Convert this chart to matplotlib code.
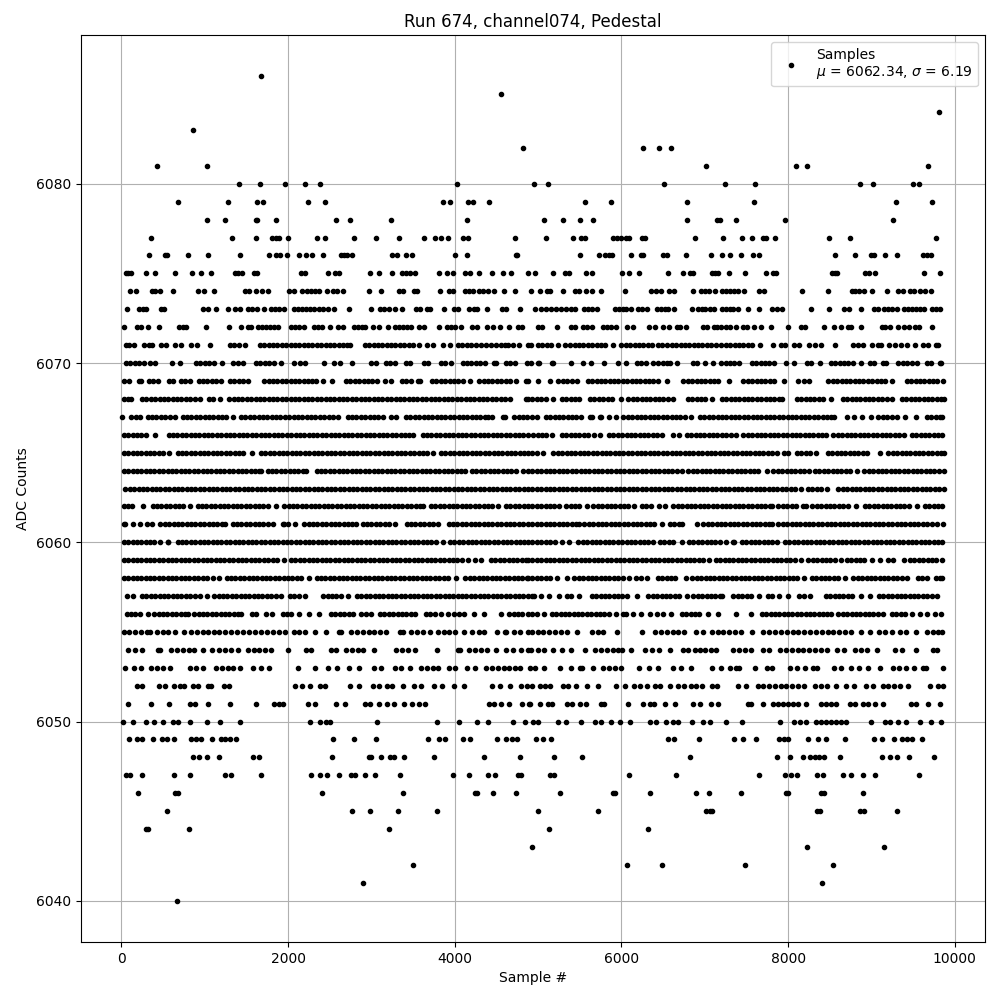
import matplotlib
matplotlib.use("Agg")
import matplotlib.pyplot as plt

# sample numbers, one list per ADC level
# dots above 6071 and below 6055 are read one by one; in the solid rows the
# dots overlap, so those lists only follow the runs and the gaps
x_6086 = [1680]
x_6085 = [4555]
x_6084 = [9812]
x_6083 = [854]
x_6082 = [4818, 6255, 6447, 6591]
x_6081 = [423, 1022, 7010, 8100, 8231, 9680]
x_6080 = [1405, 1668, 1968, 2207, 2387, 4028, 4950, 5118, 6507, 7249, 7609, 8866, 9022, 9501, 9573]
x_6079 = [674, 1273, 1632, 1704, 2243, 2447, 3860, 3944, 4160, 4219, 4411, 5561, 5872, 6782, 7597, 9297, 9728]
x_6078 = [1022, 1237, 1609, 1628, 1860, 2579, 2746, 3237, 4147, 5070, 5297, 5501, 5656, 6782, 7153, 7181, 7381, 7968, 9261]
x_6077 = [351, 1321, 1620, 1812, 1852, 1892, 2004, 2351, 2447, 2794, 3058, 3333, 3632, 3764, 3836, 3920, 4100, 4160, 4722,
          5094, 5417, 5513, 5561, 5896, 5944, 5992, 6056, 6088, 6243, 6283, 6878, 7225, 7453, 7573, 7704, 7736, 7848, 8495, 8746, 9776]
x_6076 = [327, 519, 547, 794, 1034, 1417, 1776, 1860, 1904, 1992, 2136, 2219, 2291, 2423, 2638, 2674, 2702, 2770, 3249, 3309, 3417, 3489,
          4004, 4147, 4730, 4750, 5501, 5728, 5800, 5848, 5888, 6112, 6235, 6263, 6503, 6547, 6770, 7070, 7213, 7309, 7441, 7585, 7657,
          8567, 8806, 8990, 9030, 9165, 9309, 9620, 9668, 9716]
x_6075 = [52, 84, 116, 291, 399, 638, 842, 950, 1070, 1357, 1393, 1441, 1593, 1625, 2159, 2199, 2483, 2567, 2615, 2986, 3094, 3249, 3369, 3417,
          3465, 3525, 3812, 3908, 3980, 4123, 4187, 4291, 4447, 4579, 4675, 4878, 4962, 5177, 5329, 5369, 5573, 5645, 6004, 6088, 6207, 6555,
          6734, 6818, 6854, 7082, 7126, 7162, 7297, 7489, 7740, 7824, 7860, 8531, 8563, 8591, 8926, 8974, 9046, 9632, 9824]
x_6074 = [100, 171, 363, 399, 459, 615, 914, 986, 1106, 1477, 1525, 1620, 1692, 1764, 2016, 2076, 2171, 2223, 2279, 2327, 2375, 2471, 2543, 2591,
          2662, 2974, 3118, 3333, 3381, 3513, 3549, 3824, 3932, 3980, 4123, 4171, 4219, 4291, 4339, 4399, 4471, 4591, 4722, 4914, 5022, 5106,
          5142, 5297, 5449, 5497, 5573, 5645, 5752, 6040, 6359, 6411, 6471, 6567, 6627, 6854, 6950, 7006, 7054, 7118, 7213, 7253, 7309, 7357,
          7405, 7477, 7657, 7716, 8171, 8483, 8770, 8806, 8854, 8914, 9010, 9189, 9321, 9381, 9465, 9513, 9585, 9645, 9716]
x_6073 = [64, 207, 255, 299, 471, 511, 974, 1034, 1137, 1273, 1357, 1417, 1513, 1561, 1632, 1716, 1800, 1848, 1896, 1956, 2076, 2124, 2171, 2219,
          2267, 2315, 2375, 2423, 2483, 2555, 2734, 2998, 3105, 3153, 3213, 3285, 3369, 3537, 3585, 3668, 3704, 3872, 3992, 4040, 4171, 4231,
          4271, 4387, 4567, 4615, 4782, 4962, 5034, 5094, 5153, 5213, 5273, 5333, 5393, 5441, 5549, 5597, 5645, 5704, 5920, 5968, 6016, 6052,
          6112, 6195, 6243, 6303, 6423, 6471, 6519, 6555, 6627, 6842, 6914, 6962, 6998, 7058, 7106, 7213, 7261, 7309, 7345, 7405, 7525, 7657,
          7812, 7872, 7932, 8279, 8495, 8674, 8734, 8878, 9034, 9082, 9153, 9201, 9249, 9309, 9393, 9441, 9489, 9537, 9585, 9632, 9728, 9776, 9824]
x_6072 = [28, 183, 231, 315, 447, 686, 734, 770, 1010, 1285, 1429, 1513, 1549, 1644, 1692, 1740, 1788, 1836, 1884, 2040, 2088, 2136, 2195, 2315,
          2363, 2411, 2507, 2603, 2662, 2794, 2842, 2890, 2926, 3022, 3094, 3201, 3285, 3333, 3381, 3429, 3477, 3573, 3632, 3812, 3908, 3956,
          4004, 4076, 4207, 4267, 4387, 4459, 4543, 4650, 4758, 4806, 4998, 5046, 5225, 5393, 5441, 5537, 5585, 5645, 5776, 5824, 5872, 5932,
          6064, 6136, 6327, 6399, 6495, 6567, 6662, 6698, 6770, 6974, 7022, 7106, 7153, 7201, 7261, 7309, 7381, 7465, 7513, 7597, 7680, 7800,
          8004, 8159, 8207, 8435, 8555, 8639, 8722, 8758, 8878, 9130, 9165, 9225, 9321, 9393, 9453, 9525, 9573, 9728]
x_6071 = [52, 90, 150, 270, 330, 365, 470, 530, 645, 720, 832, 905, 1060, 1300, 1352, 1405, 1480, 1660, 1712, 1765, 1818, 1870, 1922, 1975, 2030, 2082,
          2135, 2188, 2240, 2292, 2345, 2398, 2450, 2502, 2555, 2608, 2660, 2712, 2745, 2920, 2972, 3025, 3078, 3130, 3182, 3235, 3288, 3340, 3392,
          3445, 3498, 3570, 3668, 3740, 3860, 3940, 4040, 4092, 4145, 4198, 4250, 4310, 4380, 4440, 4500, 4552, 4605, 4640, 4700, 4770, 4878, 4918,
          5000, 5052, 5105, 5158, 5240, 5320, 5380, 5440, 5492, 5545, 5598, 5650, 5702, 5755, 5808, 5900, 6000, 6052, 6105, 6158, 6210, 6262, 6315,
          6368, 6440, 6490, 6552, 6605, 6658, 6710, 6762, 6815, 6868, 6920, 6972, 7025, 7078, 7140, 7200, 7252, 7305, 7358, 7410, 7462, 7515, 7568,
          7660, 7818, 7920, 7960, 8070, 8130, 8250, 8320, 8390, 8558, 8780, 8840, 8900, 9006, 9080, 9120, 9210, 9280, 9360, 9426, 9526, 9620, 9680,
          9770, 9800]
x_6070 = [55, 108, 160, 212, 265, 345, 400, 605, 700, 895, 948, 1000, 1052, 1105, 1205, 1335, 1400, 1460, 1615, 1668, 1720, 1772, 1825, 1920, 2075, 2140,
          2200, 2435, 2555, 2620, 2764, 2995, 3060, 3175, 3228, 3280, 3415, 3460, 3635, 3680, 3835, 3888, 3960, 4095, 4148, 4200, 4252, 4305, 4360,
          4475, 4500, 4615, 4668, 4720, 4868, 4918, 5005, 5015, 5165, 5185, 5390, 5538, 5630, 5790, 5957, 6050, 6185, 6238, 6290, 6378, 6445, 6498,
          6550, 6585, 6666, 6865, 6905, 7006, 7098, 7197, 7250, 7302, 7355, 7410, 7565, 7618, 7670, 7722, 7775, 7830, 7973, 8070, 8225, 8270, 8382,
          8513, 8565, 8618, 8670, 8722, 8775, 8870, 8985, 9030, 9145, 9170, 9325, 9378, 9430, 9482, 9550, 9665, 9710, 9825, 9835]
x_6069 = [35, 90, 215, 240, 327, 380, 440, 575, 620, 715, 768, 820, 927, 980, 1032, 1085, 1138, 1200, 1303, 1355, 1408, 1460, 1520, 1715, 1768, 1820, 1872,
          1925, 1978, 2030, 2082, 2135, 2188, 2240, 2292, 2340, 2420, 2528, 2695, 2748, 2800, 2852, 2905, 2958, 3010, 3062, 3160, 3240, 3367, 3420,
          3472, 3555, 3580, 3727, 3780, 3832, 3885, 3938, 3990, 4042, 4095, 4180, 4295, 4348, 4400, 4452, 4505, 4558, 4610, 4662, 4740, 4855, 4880,
          4998, 5146, 5245, 5298, 5350, 5402, 5470, 5597, 5650, 5702, 5755, 5808, 5860, 5912, 5965, 6018, 6070, 6122, 6175, 6228, 6280, 6332, 6385,
          6438, 6550, 6745, 6798, 6850, 6902, 6955, 7008, 7060, 7112, 7165, 7290, 7465, 7518, 7570, 7622, 7675, 7728, 7780, 7832, 7950, 8125, 8190,
          8250, 8485, 8538, 8590, 8642, 8695, 8748, 8800, 8852, 8905, 8958, 9010, 9062, 9115, 9168, 9250, 9425, 9478, 9530, 9582, 9635, 9688, 9740,
          9790, 9858]
x_6068 = [30, 82, 120, 247, 300, 352, 405, 457, 510, 562, 615, 667, 720, 772, 825, 877, 940, 1047, 1100, 1180, 1295, 1347, 1400, 1452, 1505, 1557, 1610,
          1662, 1715, 1767, 1820, 1872, 1925, 1977, 2030, 2082, 2135, 2187, 2240, 2292, 2345, 2397, 2450, 2502, 2555, 2607, 2660, 2712, 2765, 2817,
          2870, 2922, 2975, 3027, 3080, 3132, 3185, 3237, 3290, 3342, 3395, 3447, 3500, 3552, 3605, 3657, 3710, 3762, 3815, 3867, 3920, 3972, 4025,
          4077, 4130, 4182, 4235, 4287, 4340, 4392, 4445, 4497, 4550, 4602, 4660, 4855, 4880, 4932, 4985, 5037, 5090, 5178, 5285, 5337, 5390, 5442,
          5490, 5625, 5677, 5730, 5782, 5835, 5890, 5998, 6085, 6137, 6190, 6242, 6295, 6347, 6400, 6452, 6505, 6557, 6622, 6797, 6850, 6902, 6955,
          7007, 7090, 7205, 7257, 7310, 7362, 7415, 7467, 7520, 7572, 7625, 7677, 7730, 7782, 7835, 7887, 7930, 8105, 8157, 8210, 8262, 8315, 8367,
          8420, 8510, 8657, 8710, 8762, 8815, 8867, 8920, 8972, 9025, 9077, 9130, 9182, 9250, 9365, 9417, 9470, 9522, 9575, 9627, 9680, 9732, 9785,
          9837, 9870]
x_6067 = [8, 115, 175, 220, 315, 367, 420, 472, 525, 577, 640, 735, 787, 840, 892, 945, 997, 1050, 1102, 1155, 1207, 1260, 1340, 1435, 1487, 1540, 1592,
          1645, 1697, 1750, 1802, 1855, 1907, 1960, 2012, 2065, 2117, 2170, 2222, 2275, 2327, 2380, 2432, 2485, 2537, 2600, 2715, 2767, 2820, 2872,
          2925, 2977, 3030, 3082, 3135, 3240, 3300, 3415, 3467, 3520, 3572, 3625, 3677, 3730, 3782, 3835, 3887, 3940, 3992, 4045, 4097, 4150, 4202,
          4255, 4307, 4360, 4400, 4448, 4575, 4600, 4715, 4767, 4820, 4872, 4925, 4990, 5093, 5145, 5198, 5250, 5303, 5355, 5408, 5460, 5510, 5625,
          5650, 5745, 5750, 5853, 5930, 6025, 6077, 6130, 6182, 6235, 6287, 6340, 6392, 6445, 6497, 6550, 6602, 6655, 6707, 6760, 6830, 6945, 6997,
          7050, 7102, 7155, 7207, 7260, 7312, 7365, 7417, 7470, 7522, 7575, 7627, 7680, 7732, 7785, 7837, 7890, 7942, 7995, 8047, 8100, 8152, 8205,
          8257, 8310, 8362, 8415, 8467, 8520, 8550, 8705, 8790, 8885, 8990, 9085, 9137, 9190, 9242, 9310, 9405, 9530, 9665, 9717, 9770, 9822, 9850]
x_6066 = [28, 80, 133, 185, 238, 290, 400, 567, 620, 672, 725, 777, 830, 882, 935, 987, 1040, 1092, 1145, 1197, 1250, 1302, 1355, 1407, 1460, 1512, 1565,
          1617, 1670, 1722, 1775, 1827, 1880, 1932, 1985, 2037, 2090, 2142, 2195, 2247, 2300, 2352, 2405, 2457, 2510, 2562, 2615, 2667, 2720, 2772,
          2825, 2877, 2930, 2982, 3035, 3087, 3140, 3192, 3245, 3297, 3350, 3402, 3455, 3500, 3615, 3667, 3720, 3772, 3825, 3877, 3930, 3982, 4035,
          4087, 4140, 4192, 4245, 4297, 4350, 4402, 4455, 4507, 4560, 4612, 4665, 4717, 4770, 4822, 4880, 4945, 4997, 5050, 5090, 5170, 5285, 5337,
          5390, 5442, 5495, 5547, 5600, 5670, 5746, 5853, 5905, 5958, 6010, 6063, 6115, 6168, 6220, 6273, 6325, 6378, 6430, 6490, 6625, 6690, 6785,
          6837, 6890, 6942, 6995, 7047, 7100, 7152, 7205, 7257, 7310, 7370, 7465, 7517, 7570, 7622, 7675, 7727, 7780, 7832, 7885, 7937, 7990, 8042,
          8095, 8147, 8200, 8252, 8305, 8357, 8410, 8450, 8545, 8597, 8650, 8702, 8755, 8807, 8860, 8912, 8965, 9017, 9070, 9122, 9175, 9227, 9280,
          9332, 9390, 9485, 9537, 9590, 9642, 9695, 9747, 9800, 9850]
x_6065 = [28, 80, 133, 185, 238, 290, 343, 395, 448, 500, 572, 675, 727, 780, 832, 885, 937, 990, 1042, 1095, 1147, 1200, 1252, 1305, 1357, 1410, 1462, 1568,
          1675, 1727, 1780, 1832, 1885, 1937, 1990, 2042, 2095, 2147, 2200, 2252, 2305, 2357, 2410, 2462, 2515, 2567, 2620, 2672, 2725, 2777, 2830,
          2882, 2935, 2987, 3040, 3092, 3145, 3197, 3250, 3302, 3355, 3407, 3460, 3512, 3565, 3617, 3670, 3740, 3835, 3887, 3940, 3992, 4045, 4097,
          4150, 4202, 4255, 4307, 4360, 4412, 4465, 4517, 4570, 4622, 4675, 4727, 4780, 4832, 4880, 4925, 4990, 5058, 5185, 5237, 5290, 5342, 5395,
          5447, 5500, 5552, 5605, 5657, 5710, 5762, 5815, 5867, 5920, 5972, 6025, 6077, 6130, 6182, 6235, 6287, 6340, 6392, 6445, 6497, 6550, 6602,
          6655, 6707, 6760, 6812, 6865, 6917, 6970, 7022, 7075, 7127, 7180, 7232, 7285, 7337, 7390, 7442, 7495, 7547, 7600, 7652, 7705, 7757, 7810,
          7862, 7950, 8000, 8105, 8157, 8210, 8262, 8330, 8477, 8530, 8582, 8635, 8687, 8740, 8792, 8845, 8897, 8950, 9102, 9205, 9257, 9310, 9362,
          9415, 9467, 9520, 9572, 9625, 9677, 9730, 9782, 9835, 9870]
x_6064 = [28, 80, 133, 185, 238, 290, 343, 395, 448, 500, 553, 605, 658, 710, 763, 815, 868, 920, 973, 1025, 1078, 1130, 1183, 1235, 1288, 1340, 1393, 1445,
          1498, 1550, 1603, 1655, 1680, 1755, 1807, 1860, 1912, 1965, 2017, 2070, 2122, 2175, 2220, 2343, 2395, 2448, 2500, 2553, 2605, 2658, 2710,
          2763, 2815, 2868, 2920, 2973, 3025, 3078, 3130, 3183, 3235, 3288, 3340, 3393, 3445, 3498, 3550, 3603, 3655, 3708, 3760, 3813, 3865, 3918,
          3970, 4023, 4075, 4128, 4207, 4260, 4312, 4365, 4417, 4470, 4522, 4575, 4627, 4680, 4740, 4823, 4880, 4932, 4985, 5037, 5090, 5142, 5195,
          5247, 5300, 5352, 5405, 5457, 5510, 5562, 5615, 5667, 5720, 5772, 5825, 5877, 5930, 5982, 6035, 6087, 6140, 6192, 6245, 6297, 6350, 6402,
          6455, 6507, 6560, 6612, 6665, 6730, 6805, 6857, 6910, 6962, 7015, 7067, 7120, 7172, 7225, 7277, 7330, 7382, 7435, 7487, 7540, 7592, 7645,
          7742, 7825, 7877, 7930, 7982, 8035, 8087, 8140, 8192, 8250, 8325, 8377, 8430, 8482, 8535, 8587, 8640, 8692, 8745, 8830, 8917, 8970, 9022,
          9075, 9127, 9180, 9232, 9285, 9337, 9390, 9442, 9495, 9547, 9600, 9652, 9705, 9757, 9810, 9870]
x_6063 = [47, 100, 152, 205, 257, 310, 362, 415, 467, 520, 572, 625, 677, 730, 782, 835, 887, 940, 992, 1045, 1097, 1150, 1202, 1255, 1307, 1360, 1412, 1465,
          1517, 1570, 1622, 1675, 1727, 1780, 1832, 1885, 1937, 1990, 2042, 2095, 2147, 2200, 2252, 2305, 2357, 2410, 2462, 2515, 2567, 2620, 2672,
          2725, 2777, 2830, 2882, 2935, 2987, 3040, 3092, 3145, 3197, 3250, 3302, 3355, 3407, 3460, 3512, 3565, 3617, 3670, 3722, 3775, 3827, 3880,
          3932, 3985, 4037, 4090, 4142, 4195, 4247, 4300, 4352, 4405, 4457, 4510, 4562, 4615, 4667, 4720, 4772, 4825, 4880, 4932, 4985, 5037, 5090,
          5142, 5195, 5247, 5300, 5352, 5405, 5457, 5510, 5562, 5615, 5667, 5720, 5772, 5825, 5877, 5930, 5982, 6035, 6087, 6140, 6192, 6245, 6297,
          6350, 6402, 6455, 6507, 6560, 6612, 6665, 6717, 6770, 6822, 6875, 6927, 6980, 7032, 7085, 7137, 7190, 7242, 7295, 7347, 7400, 7452, 7505,
          7557, 7610, 7662, 7715, 7767, 7820, 7872, 7925, 7977, 8030, 8082, 8150, 8237, 8290, 8342, 8395, 8470, 8605, 8657, 8710, 8762, 8815, 8867,
          8920, 8972, 9025, 9077, 9130, 9182, 9235, 9287, 9340, 9392, 9445, 9497, 9550, 9602, 9655, 9707, 9760, 9812, 9870]
x_6062 = [28, 80, 130, 260, 375, 427, 480, 532, 585, 637, 690, 742, 820, 915, 967, 1020, 1072, 1125, 1177, 1230, 1282, 1335, 1387, 1440, 1492, 1545, 1597,
          1650, 1702, 1755, 1860, 1955, 2007, 2060, 2112, 2165, 2217, 2270, 2322, 2375, 2427, 2480, 2532, 2585, 2637, 2690, 2742, 2795, 2847, 2900,
          2952, 3005, 3057, 3110, 3162, 3215, 3267, 3320, 3372, 3425, 3477, 3530, 3582, 3620, 3715, 3767, 3820, 3872, 3925, 3977, 4030, 4082, 4135,
          4187, 4240, 4292, 4345, 4397, 4450, 4520, 4615, 4667, 4720, 4772, 4825, 4880, 4932, 4985, 5037, 5090, 5142, 5195, 5250, 5337, 5390, 5442,
          5495, 5582, 5665, 5717, 5770, 5822, 5875, 5927, 5980, 6032, 6085, 6150, 6245, 6297, 6350, 6450, 6518, 6625, 6677, 6730, 6782, 6835, 6887,
          6940, 6992, 7045, 7097, 7150, 7202, 7255, 7307, 7360, 7412, 7465, 7517, 7570, 7622, 7675, 7727, 7780, 7810, 7885, 7937, 7990, 8042, 8090,
          8185, 8210, 8293, 8345, 8398, 8450, 8503, 8555, 8608, 8660, 8715, 8810, 8925, 8977, 9030, 9082, 9135, 9187, 9240, 9292, 9345, 9397, 9450,
          9550, 9645, 9697, 9750, 9802, 9850]
x_6061 = [28, 40, 135, 220, 307, 372, 467, 520, 572, 625, 677, 730, 782, 835, 887, 940, 992, 1045, 1097, 1150, 1202, 1248, 1335, 1387, 1440, 1492, 1545,
          1597, 1650, 1702, 1755, 1820, 1935, 1948, 2000, 2088, 2195, 2247, 2300, 2352, 2405, 2457, 2510, 2562, 2615, 2667, 2720, 2772, 2820, 2895,
          2947, 3000, 3052, 3105, 3157, 3210, 3280, 3423, 3475, 3528, 3580, 3633, 3685, 3738, 3800, 3927, 3980, 4032, 4085, 4137, 4190, 4242, 4295,
          4347, 4400, 4452, 4505, 4557, 4610, 4662, 4715, 4767, 4820, 4880, 4932, 4985, 5037, 5090, 5142, 5195, 5247, 5300, 5352, 5405, 5457, 5490,
          5557, 5610, 5662, 5715, 5767, 5820, 5872, 5925, 5977, 6030, 6082, 6135, 6187, 6240, 6292, 6345, 6397, 6490, 6585, 6637, 6690, 6725, 6910,
          6985, 7037, 7090, 7142, 7195, 7247, 7300, 7352, 7405, 7457, 7510, 7562, 7615, 7667, 7720, 7772, 7810, 7885, 7937, 7990, 8042, 8095, 8147,
          8200, 8252, 8305, 8357, 8410, 8462, 8515, 8567, 8620, 8672, 8725, 8777, 8830, 8882, 8935, 8987, 9040, 9092, 9145, 9197, 9250, 9302, 9355,
          9407, 9460, 9512, 9565, 9617, 9670, 9722, 9790, 9858]
x_6060 = [28, 80, 133, 185, 238, 290, 343, 395, 460, 555, 560, 675, 727, 780, 832, 885, 937, 990, 1042, 1095, 1147, 1200, 1252, 1305, 1357, 1410, 1462, 1515,
          1567, 1620, 1672, 1725, 1777, 1830, 1882, 1935, 1987, 2040, 2092, 2145, 2197, 2250, 2302, 2355, 2407, 2460, 2512, 2565, 2617, 2670, 2722,
          2775, 2827, 2880, 2932, 2985, 3037, 3090, 3142, 3195, 3247, 3300, 3352, 3405, 3457, 3510, 3562, 3615, 3667, 3720, 3772, 3860, 3943, 3995,
          4048, 4100, 4153, 4205, 4258, 4310, 4363, 4415, 4468, 4520, 4573, 4625, 4678, 4730, 4783, 4835, 4880, 4932, 4985, 5037, 5090, 5142, 5198,
          5285, 5370, 5485, 5537, 5590, 5642, 5695, 5747, 5800, 5852, 5905, 5957, 6010, 6062, 6115, 6167, 6220, 6272, 6325, 6382, 6465, 6517, 6570,
          6622, 6730, 6813, 6865, 6918, 6970, 7023, 7075, 7128, 7180, 7250, 7345, 7350, 7445, 7497, 7550, 7602, 7655, 7707, 7760, 7812, 7870, 7965,
          8017, 8070, 8122, 8175, 8227, 8280, 8332, 8385, 8437, 8490, 8542, 8595, 8647, 8700, 8752, 8805, 8857, 8910, 8962, 9015, 9067, 9120, 9172,
          9225, 9277, 9330, 9382, 9435, 9487, 9540, 9592, 9645, 9697, 9750, 9802, 9850]
x_6059 = [28, 80, 133, 185, 238, 290, 343, 395, 448, 500, 553, 605, 658, 710, 763, 815, 868, 920, 973, 1025, 1078, 1130, 1183, 1235, 1288, 1340, 1393, 1445,
          1498, 1550, 1603, 1655, 1708, 1760, 1813, 1865, 1952, 2035, 2087, 2140, 2192, 2245, 2297, 2350, 2402, 2455, 2507, 2560, 2612, 2665, 2717,
          2770, 2822, 2875, 2927, 2980, 3032, 3085, 3137, 3190, 3242, 3295, 3347, 3400, 3452, 3505, 3557, 3610, 3662, 3715, 3767, 3820, 3872, 3925,
          3977, 4030, 4082, 4160, 4245, 4320, 4435, 4487, 4540, 4592, 4645, 4697, 4750, 4802, 4855, 4880, 4932, 4985, 5037, 5090, 5142, 5195, 5247,
          5300, 5352, 5405, 5457, 5510, 5562, 5615, 5667, 5720, 5772, 5825, 5877, 5930, 5982, 6035, 6087, 6140, 6192, 6245, 6297, 6350, 6402, 6455,
          6507, 6560, 6612, 6665, 6717, 6770, 6822, 6875, 6927, 6980, 7050, 7133, 7185, 7238, 7290, 7343, 7395, 7448, 7500, 7553, 7605, 7658, 7710,
          7763, 7815, 7868, 7920, 7973, 8025, 8078, 8150, 8245, 8297, 8350, 8402, 8455, 8507, 8560, 8630, 8705, 8757, 8810, 8862, 8915, 9010, 9098,
          9205, 9257, 9390, 9465, 9517, 9570, 9622, 9675, 9727, 9780, 9850]
x_6058 = [28, 80, 133, 185, 238, 290, 343, 395, 448, 500, 553, 605, 658, 710, 763, 815, 868, 920, 973, 1025, 1100, 1168, 1263, 1315, 1368, 1420, 1473, 1525,
          1578, 1630, 1683, 1735, 1788, 1840, 1893, 1945, 1998, 2050, 2103, 2160, 2256, 2343, 2395, 2448, 2500, 2553, 2605, 2658, 2710, 2763, 2815,
          2868, 2920, 2973, 3025, 3078, 3130, 3183, 3235, 3288, 3340, 3393, 3445, 3498, 3550, 3603, 3655, 3708, 3760, 3813, 3865, 3920, 4020, 4127,
          4180, 4232, 4285, 4337, 4390, 4442, 4495, 4547, 4600, 4652, 4705, 4757, 4810, 4862, 4880, 4932, 4985, 5037, 5090, 5142, 5225, 5350, 5437,
          5490, 5542, 5595, 5647, 5700, 5752, 5805, 5857, 5910, 5962, 6015, 6090, 6170, 6238, 6306, 6437, 6490, 6542, 6595, 6647, 6770, 6853, 6905,
          6958, 7010, 7063, 7115, 7168, 7220, 7273, 7325, 7378, 7430, 7483, 7535, 7588, 7640, 7693, 7745, 7798, 7850, 7903, 7955, 8008, 8060, 8113,
          8190, 8285, 8337, 8390, 8442, 8495, 8547, 8600, 8678, 8785, 8837, 8890, 8942, 8995, 9047, 9100, 9152, 9205, 9257, 9310, 9362, 9430, 9557,
          9610, 9670, 9773, 9825, 9850]
x_6057 = [68, 140, 247, 300, 352, 405, 457, 510, 562, 615, 667, 720, 772, 825, 877, 940, 1028, 1115, 1167, 1220, 1272, 1325, 1377, 1430, 1482, 1535, 1587,
          1640, 1692, 1745, 1797, 1850, 1912, 2023, 2075, 2128, 2200, 2423, 2475, 2528, 2580, 2633, 2720, 2827, 2880, 2932, 2985, 3037, 3090, 3142,
          3195, 3247, 3300, 3352, 3405, 3457, 3510, 3562, 3615, 3667, 3720, 3772, 3825, 3877, 3930, 3982, 4035, 4087, 4140, 4192, 4245, 4297, 4350,
          4402, 4455, 4507, 4560, 4612, 4665, 4717, 4770, 4822, 4880, 4925, 4950, 5030, 5133, 5250, 5345, 5397, 5490, 5645, 5697, 5750, 5802, 5855,
          5907, 5960, 6012, 6070, 6190, 6325, 6377, 6430, 6482, 6535, 6587, 6640, 6692, 6790, 6865, 6917, 6970, 7022, 7075, 7127, 7180, 7210, 7345,
          7397, 7450, 7502, 7555, 7650, 7757, 7810, 7890, 7998, 8137, 8190, 8262, 8453, 8505, 8558, 8610, 8663, 8715, 8768, 8878, 8978, 9093, 9145,
          9198, 9250, 9303, 9355, 9408, 9460, 9513, 9565, 9618, 9670, 9723, 9782]
x_6056 = [63, 115, 168, 220, 316, 395, 447, 500, 552, 605, 657, 710, 762, 800, 875, 927, 980, 1032, 1085, 1137, 1190, 1242, 1295, 1347, 1400, 1440, 1567, 1620,
          1740, 1804, 1935, 1987, 2040, 2128, 2255, 2368, 2515, 2567, 2620, 2672, 2725, 2780, 2875, 2940, 3000, 3103, 3155, 3208, 3260, 3313, 3365,
          3418, 3470, 3528, 3655, 3707, 3760, 3840, 3916, 3995, 4047, 4112, 4228, 4348, 4556, 4655, 4707, 4760, 4812, 4880, 4925, 4990, 5070, 5165,
          5217, 5270, 5322, 5375, 5427, 5480, 5532, 5585, 5637, 5690, 5742, 5795, 5847, 5930, 6018, 6058, 6145, 6230, 6338, 6425, 6500, 6598, 6725,
          6777, 6830, 6882, 6935, 7038, 7158, 7378, 7558, 7685, 7737, 7790, 7842, 7895, 7947, 8000, 8052, 8105, 8157, 8210, 8262, 8315, 8367, 8420,
          8472, 8510, 8605, 8657, 8710, 8762, 8815, 8867, 8920, 8972, 9025, 9077, 9142, 9245, 9297, 9350, 9402, 9490, 9585, 9662, 9765, 9830]
x_6055 = [28, 95, 165, 235, 305, 340, 423, 495, 560, 640, 755, 840, 908, 975, 1040, 1108, 1175, 1245, 1315, 1385, 1455, 1525, 1600, 1675, 1745, 1815,
          1885, 1960, 2068, 2135, 2205, 2320, 2460, 2615, 2640, 2755, 2825, 2895, 2965, 3035, 3105, 3180, 3343, 3380, 3475, 3545, 3615, 3700, 3795,
          3865, 3935, 4005, 4112, 4208, 4288, 4348, 4508, 4607, 4620, 4715, 4785, 4880, 4925, 4995, 5065, 5135, 5205, 5275, 5345, 5470, 5645, 5715,
          5785, 5950, 6246, 6405, 6475, 6545, 6615, 6685, 6750, 6890, 6978, 7085, 7155, 7225, 7295, 7365, 7435, 7570, 7705, 7775, 7845, 7915, 7985,
          8055, 8125, 8195, 8265, 8335, 8405, 8475, 8545, 8615, 8685, 8755, 8870, 8978, 9093, 9160, 9250, 9345, 9415, 9530, 9665, 9735, 9805, 9850]
x_6054 = [75, 160, 252, 435, 460, 595, 665, 735, 805, 875, 980, 1088, 1167, 1240, 1320, 1396, 1515, 1585, 1655, 1725, 1800, 2000, 2215, 2280, 2515,
          2580, 2695, 2765, 2835, 2900, 3028, 3295, 3365, 3435, 3520, 3792, 4035, 4060, 4175, 4245, 4315, 4385, 4500, 4615, 4700, 4795, 4880, 4918,
          4998, 5070, 5185, 5290, 5394, 5558, 5685, 5755, 5825, 5895, 5965, 6010, 6118, 6285, 6370, 6450, 6582, 6738, 6798, 6878, 6938, 6998, 7078,
          7138, 7345, 7415, 7485, 7550, 7705, 7770, 7905, 7975, 8045, 8115, 8185, 8255, 8325, 8395, 8470, 8585, 8670, 8805, 8875, 8945, 9070, 9285,
          9370, 9538, 9745, 9790]
x_6053 = [48, 148, 240, 355, 425, 495, 580, 823, 895, 980, 1135, 1205, 1275, 1335, 1420, 1580, 1676, 1768, 2115, 2320, 2475, 2588, 2728, 2848, 3028,
          3112, 3287, 3360, 3460, 3595, 3665, 3735, 3800, 3935, 4000, 4144, 4240, 4375, 4445, 4515, 4585, 4655, 4725, 4780, 4908, 4965, 5070, 5265,
          5394, 5505, 5530, 5658, 5785, 5855, 5925, 5990, 6210, 6330, 6434, 6625, 6710, 6834, 7086, 7194, 7305, 7375, 7410, 7598, 7745, 7810, 8025,
          8110, 8202, 8305, 8350, 8546, 8638, 8758, 8850, 8960, 9102, 9265, 9330, 9418, 9510, 9625, 9650, 9858]
x_6052 = [188, 248, 448, 528, 628, 700, 756, 860, 916, 1036, 1076, 1228, 1288, 2080, 2164, 2268, 2388, 2440, 2740, 2848, 3020, 3088, 3188, 3248, 3376,
          3516, 3592, 3748, 3844, 3988, 4108, 4448, 4548, 4668, 4796, 4868, 4926, 5018, 5078, 5138, 5298, 5358, 5458, 5586, 5718, 5930, 6038, 6150,
          6218, 6306, 6402, 6466, 6578, 6678, 6750, 6838, 6890, 6966, 7086, 7146, 7398, 7498, 7640, 7700, 7770, 7840, 7910, 7980, 8050, 8120, 8190,
          8318, 8390, 8470, 8578, 8694, 8790, 8938, 9018, 9138, 9205, 9270, 9338, 9438, 9698, 9798, 9858]
x_6051 = [76, 360, 568, 820, 880, 1036, 1300, 1612, 1828, 1888, 1936, 2236, 2320, 2572, 2680, 2928, 2988, 3088, 3184, 3268, 3388, 3488, 3568, 3648,
          4408, 4468, 4556, 4648, 4808, 4888, 4898, 5018, 5118, 5170, 5346, 5410, 5498, 5578, 5750, 5790, 6078, 6258, 6346, 6386, 6522, 6638, 6858,
          6946, 7078, 7158, 7518, 7558, 7698, 7818, 7878, 7938, 8000, 8060, 8120, 8218, 8398, 8458, 8518, 8578, 8738, 8798, 8898, 8958, 9046, 9138,
          9478, 9530, 9678, 9818]
x_6050 = [20, 140, 292, 388, 496, 616, 680, 820, 1024, 1188, 1420, 2260, 2380, 2460, 2500, 3068, 3784, 4048, 4268, 4400, 4696, 4848, 4938, 4998, 5238,
          5338, 5514, 5678, 5758, 5878, 5978, 6102, 6346, 6410, 6534, 6618, 6678, 6846, 6978, 7058, 7254, 7446, 7902, 8070, 8138, 8218, 8338, 8398,
          8458, 8518, 8578, 8638, 8698, 8994, 9158, 9218, 9318, 9414, 9582, 9714, 9834]
x_6049 = [88, 188, 248, 376, 488, 548, 628, 836, 892, 952, 1084, 1192, 1248, 1308, 1372, 2536, 2788, 3052, 3676, 3808, 3880, 4096, 4180, 4504, 4612,
          4684, 4744, 4974, 5058, 5154, 6558, 6626, 6930, 7346, 7458, 7614, 7890, 7950, 7998, 8238, 8358, 8458, 8682, 9030, 9130, 9270, 9370, 9430,
          9486, 9606]
x_6048 = [856, 928, 1024, 1176, 1576, 1648, 2524, 2975, 3000, 3112, 3220, 3268, 3388, 3748, 4348, 4780, 5190, 5526, 6822, 7866, 8026, 8178, 8266, 8318,
          8370, 8426, 8622, 9126, 9222, 9306, 9450, 9750]
x_6047 = [52, 104, 244, 628, 820, 1240, 1312, 1672, 2272, 2380, 2468, 2608, 2752, 2808, 2920, 3040, 3340, 3976, 4168, 4396, 4480, 4756, 4800, 5138, 5190,
          6090, 6654, 7650, 7958, 8034, 8106, 8346, 8418, 8658, 8754, 8898, 9042, 9570]
x_6046 = [204, 648, 676, 2404, 3376, 4240, 4268, 4456, 4732, 5262, 5898, 5922, 6342, 6894, 7050, 7434, 7978, 7998, 8398, 8430, 8898]
x_6045 = [544, 2764, 2980, 3316, 3784, 4998, 5718, 7018, 7058, 7086, 8346, 8378, 8862, 8910, 9306]
x_6044 = [300, 324, 808, 3208, 5130, 6318]
x_6043 = [4926, 8226, 9150]
x_6042 = [3496, 6066, 6486, 7482, 8538]
x_6041 = [2896, 8406]
x_6040 = [664]

levels = [6086, 6085, 6084, 6083, 6082, 6081, 6080, 6079, 6078, 6077, 6076, 6075, 6074, 6073, 6072, 6071, 6070, 6069, 6068,
          6067, 6066, 6065, 6064, 6063, 6062, 6061, 6060, 6059, 6058, 6057, 6056, 6055, 6054, 6053, 6052, 6051, 6050, 6049,
          6048, 6047, 6046, 6045, 6044, 6043, 6042, 6041, 6040]
rows = [x_6086, x_6085, x_6084, x_6083, x_6082, x_6081, x_6080, x_6079, x_6078, x_6077, x_6076, x_6075, x_6074, x_6073, x_6072,
        x_6071, x_6070, x_6069, x_6068, x_6067, x_6066, x_6065, x_6064, x_6063, x_6062, x_6061, x_6060, x_6059, x_6058, x_6057,
        x_6056, x_6055, x_6054, x_6053, x_6052, x_6051, x_6050, x_6049, x_6048, x_6047, x_6046, x_6045, x_6044, x_6043, x_6042,
        x_6041, x_6040]

samples = []
counts = []
for level, row in zip(levels, rows):
    for s in row:
        samples.append(s)
        counts.append(level)

plt.figure(figsize=(10, 10))
plt.plot(samples, counts, "k.", label="Samples\n$\\mu$ = 6062.34, $\\sigma$ = 6.19")
plt.title("Run 674, channel074, Pedestal")
plt.xlabel("Sample #")
plt.ylabel("ADC Counts")
plt.grid(True)
plt.legend(loc="upper right")
plt.subplots_adjust(left=0.081, right=0.985, bottom=0.058, top=0.965)
plt.savefig("out.png", dpi=100)
